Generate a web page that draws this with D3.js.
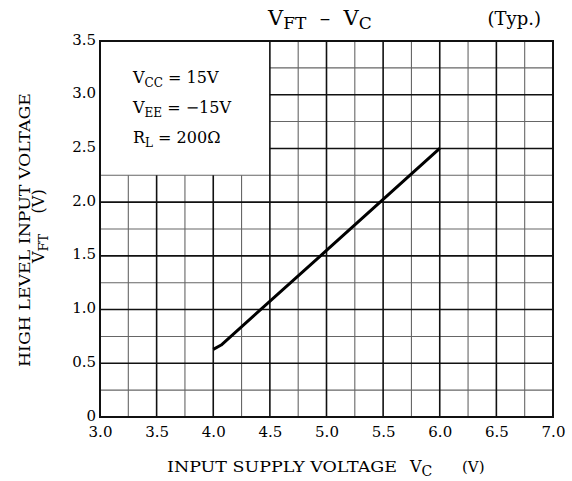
<!DOCTYPE html>
<html>
<head>
<meta charset="utf-8">
<script src="https://cdn.jsdelivr.net/npm/d3@7"></script>
<style>
  html, body { margin: 0; padding: 0; background: #fff; }
  svg { display: block; }
  text { font-family: "DejaVu Serif", "Liberation Serif", serif; fill: #000; }
</style>
</head>
<body>
<svg id="chart" width="572" height="481"></svg>
<script>
// ---- data ----
const xTickValues = [3.0, 3.5, 4.0, 4.5, 5.0, 5.5, 6.0, 6.5, 7.0];
const xTickLabels = ["3.0", "3.5", "4.0", "4.5", "5.0", "5.5", "6.0", "6.5", "7.0"];
const yTickValues = [0, 0.5, 1.0, 1.5, 2.0, 2.5, 3.0, 3.5];
const yTickLabels = ["0", "0.5", "1.0", "1.5", "2.0", "2.5", "3.0", "3.5"];
const xGridMinor = [3.25, 3.75, 4.25, 4.75, 5.25, 5.75, 6.25, 6.75];
const yGridMinor = [0.25, 0.75, 1.25, 1.75, 2.25, 2.75, 3.25];
const curveVc  = [4.00, 4.07, 5.00, 6.00];
const curveVft = [0.63, 0.67, 1.55, 2.50];
const legendBox = { x0: 3.0, x1: 4.5, y0: 2.25, y1: 3.5 };

// ---- scales ----
const svg = d3.select("#chart");
const x = d3.scaleLinear().domain([3, 7]).range([100, 553]);
const y = d3.scaleLinear().domain([0, 3.5]).range([417, 41]);

const grid = svg.append("g");

// vertical grid lines (cut off by the legend box)
function vLine(v, cls) {
  const inBox = v > legendBox.x0 && v < legendBox.x1;
  grid.append("line")
    .attr("x1", x(v)).attr("x2", x(v))
    .attr("y1", y(0)).attr("y2", inBox ? y(legendBox.y0) : y(3.5))
    .attr("stroke", cls === "major" ? "#111" : "#666")
    .attr("stroke-width", cls === "major" ? 1.6 : 1.1);
}
function hLine(v, cls) {
  const inBox = v > legendBox.y0 && v < legendBox.y1;
  grid.append("line")
    .attr("y1", y(v)).attr("y2", y(v))
    .attr("x1", inBox ? x(legendBox.x1) : x(3)).attr("x2", x(7))
    .attr("stroke", cls === "major" ? "#111" : "#666")
    .attr("stroke-width", cls === "major" ? 1.6 : 1.1);
}
xGridMinor.forEach(v => vLine(v, "minor"));
yGridMinor.forEach(v => hLine(v, "minor"));
xTickValues.slice(1, -1).forEach(v => vLine(v, "major"));
yTickValues.slice(1, -1).forEach(v => hLine(v, "major"));

// frame
svg.append("rect")
  .attr("x", x(3)).attr("y", y(3.5))
  .attr("width", x(7) - x(3)).attr("height", y(0) - y(3.5))
  .attr("fill", "none").attr("stroke", "#111").attr("stroke-width", 2);

// curve
const line = d3.line().x(d => x(d[0])).y(d => y(d[1]));
svg.append("path")
  .datum(curveVc.map((v, i) => [v, curveVft[i]]))
  .attr("d", line)
  .attr("fill", "none").attr("stroke", "#000").attr("stroke-width", 3)
  .attr("stroke-linejoin", "round");

// axes (labels only)
const xAxis = svg.append("g").attr("transform", `translate(0,${y(0)})`)
  .call(d3.axisBottom(x).tickValues(xTickValues).tickSize(0).tickPadding(9)
    .tickFormat((d, i) => xTickLabels[i]));
xAxis.select(".domain").remove();
xAxis.selectAll("text").style("font-family", "DejaVu Serif").style("font-size", "15px").attr("fill", "#000");

const yAxis = svg.append("g").attr("transform", `translate(${x(3)},0)`)
  .call(d3.axisLeft(y).tickValues(yTickValues).tickSize(0).tickPadding(4)
    .tickFormat((d, i) => yTickLabels[i]));
yAxis.select(".domain").remove();
yAxis.selectAll("text").style("font-family", "DejaVu Serif").style("font-size", "15px")
  .attr("fill", "#000").attr("dy", "0.2em");

// helper for text with subscripts (no empty tspans)
function subText(g, parts, size, subSize, drop) {
  const d = drop || 4;
  let lowered = false;
  parts.forEach(p => {
    const ts = g.append("tspan").text(p.t);
    if (p.sub) {
      ts.attr("font-size", subSize).attr("dy", lowered ? 0 : d);
      lowered = true;
    } else {
      ts.attr("font-size", size).attr("dy", lowered ? -d : 0);
      lowered = false;
    }
  });
}

// title
const title = svg.append("text").attr("x", 268).attr("y", 25).style("white-space", "pre");
subText(title, [{t: "V"}, {t: "FT", sub: true}, {t: "  –  V"}, {t: "C", sub: true}], 21, 17, 4);
svg.append("text").attr("x", 541).attr("y", 25).attr("text-anchor", "end")
  .attr("font-size", 18).text("(Typ.)");

// legend
const legendLines = [
  [{t: "V"}, {t: "CC", sub: true}, {t: " = 15V"}],
  [{t: "V"}, {t: "EE", sub: true}, {t: " = −15V"}],
  [{t: "R"}, {t: "L", sub: true}, {t: " = 200Ω"}]
];
legendLines.forEach((parts, i) => {
  const t = svg.append("text").attr("x", 133).attr("y", 83 + i * 30).style("white-space", "pre");
  subText(t, parts, 16, 12, 4);
});

// x axis title
svg.append("text").attr("x", 167).attr("y", 472).attr("font-size", 15)
  .attr("textLength", 230).attr("lengthAdjust", "spacingAndGlyphs")
  .text("INPUT SUPPLY VOLTAGE");
const xt = svg.append("text").attr("x", 410).attr("y", 472).style("white-space", "pre");
subText(xt, [{t: "V"}, {t: "C", sub: true}], 16, 14, 4);
svg.append("text").attr("x", 462).attr("y", 472).attr("font-size", 15).text("(V)");

// y axis title
svg.append("text")
  .attr("transform", "translate(30,367) rotate(-90)")
  .attr("font-size", 15)
  .attr("textLength", 274).attr("lengthAdjust", "spacingAndGlyphs")
  .text("HIGH LEVEL INPUT VOLTAGE");
const yt2 = svg.append("text")
  .attr("transform", "translate(44,263) rotate(-90)")
  .style("white-space", "pre");
subText(yt2, [{t: "V"}, {t: "FT", sub: true}, {t: "    (V)"}], 16, 13, 4);
</script>
</body>
</html>
